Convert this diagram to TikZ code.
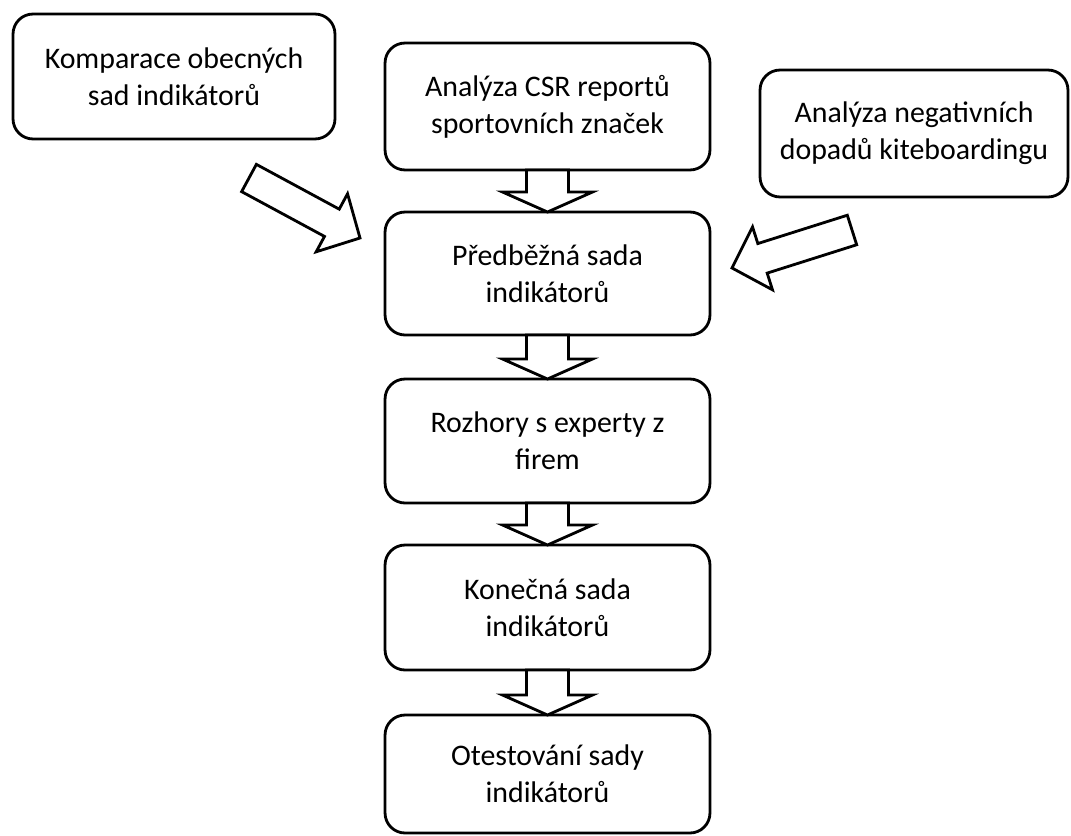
\documentclass[tikz,border=0pt]{standalone}
\usepackage{fontspec}
\setmainfont{Carlito}
\usetikzlibrary{calc}

% block arrow from #1 to #2: shaft half width, head half width, head length
\newcommand{\blockarrow}[5]{%
  \path coordinate (ah) at ($(#2)!#5!(#1)$);
  \draw [arrowbox] ($(#1)!#3!90:(#2)$) -- ($(ah)!#3!90:(#2)$) -- ($(ah)!#4!90:(#2)$) -- (#2)
    -- ($(ah)!#4!-90:(#2)$) -- ($(ah)!#3!-90:(#2)$) -- ($(#1)!#3!-90:(#2)$) -- cycle;
}

\tikzset{
  stepbox/.style={draw,line width=1.6pt,rounded corners=0.4cm,outer sep=0pt,
    align=center,minimum width=6.5cm,font=\fontsize{17}{21}\selectfont},
  arrowbox/.style={draw,fill=white,line width=1.6pt,line join=miter}
}

\begin{document}
\begin{tikzpicture}[x=0.02cm,y=-0.02cm]

\useasboundingbox (0,0) rectangle (1071,835);

\node [stepbox,minimum width=6.44cm,minimum height=2.5cm] (komp) at (174,76.5) {Komparace obecných\\sad indikátorů};
\node [stepbox,minimum height=2.54cm] (csr) at (547.5,106.5) {Analýza CSR reportů\\sportovních značek};
\node [stepbox,minimum width=6.16cm,minimum height=2.54cm] (neg) at (914,133.5) {Analýza negativních\\dopadů kiteboardingu};

\node [stepbox,minimum height=2.46cm] (pre) at (547.5,273.5) {Předběžná sada\\indikátorů};
\node [stepbox,minimum height=2.48cm] (roz) at (547.5,441) {Rozhory s experty z\\firem};
\node [stepbox,minimum height=2.5cm] (kon) at (547.5,607.5) {Konečná sada\\indikátorů};
\node [stepbox,minimum height=2.36cm] (ote) at (547.5,774) {Otestování sady\\indikátorů};

% vertical arrows
\blockarrow{csr.south}{pre.north}{0.42cm}{0.9cm}{0.4cm}
\blockarrow{pre.south}{roz.north}{0.42cm}{0.9cm}{0.4cm}
\blockarrow{roz.south}{kon.north}{0.42cm}{0.9cm}{0.4cm}
\blockarrow{kon.south}{ote.north}{0.42cm}{0.9cm}{0.4cm}

% side arrows
\coordinate (kompTail) at (249,178);
\coordinate (kompTip) at (360,238);
\coordinate (negTail) at (852,230);
\coordinate (negTip) at (732,268);
\blockarrow{kompTail}{kompTip}{0.31cm}{0.66cm}{0.64cm}
\blockarrow{negTail}{negTip}{0.31cm}{0.66cm}{0.64cm}

\end{tikzpicture}
\end{document}
